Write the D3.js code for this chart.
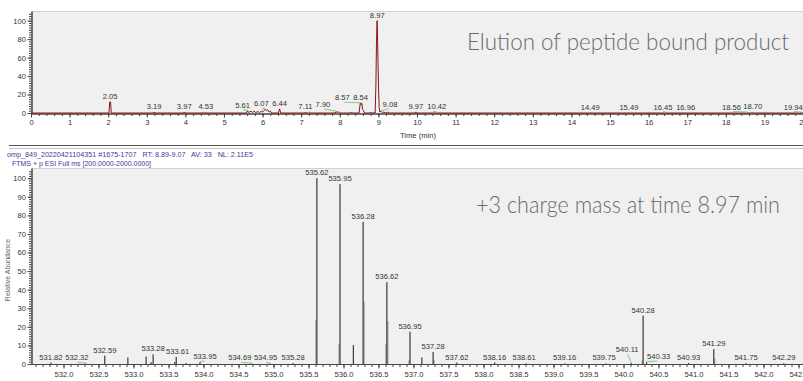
<!DOCTYPE html>
<html>
<head>
<meta charset="utf-8">
<script src="https://cdn.jsdelivr.net/npm/d3@7"></script>
<style>
  body { margin: 0; background: #fff; }
  svg { display: block; font-family: "Liberation Sans", Arial, sans-serif; }
</style>
</head>
<body>
<svg id="chart" width="803" height="381"></svg>
<script>
// ---- chromatogram (top panel) ----
const ticTime = [0, 2.02, 2.04, 2.06, 2.08, 3.17, 3.19, 3.21, 3.95, 3.97, 3.99, 4.51, 4.53, 4.55,
  5.58, 5.61, 5.64, 5.70, 5.74, 5.78, 5.82, 5.88, 5.92, 5.97, 6.00, 6.04, 6.07, 6.10, 6.13, 6.17, 6.20, 6.24,
  6.41, 6.44, 6.47, 7.09, 7.11, 7.13, 7.19, 7.21, 7.23, 7.88, 7.90, 7.93, 7.96, 7.99, 8.28, 8.30, 8.32,
  8.50, 8.53, 8.55, 8.57, 8.59, 8.61, 8.64, 8.78, 8.80, 8.82, 8.88, 8.90, 8.915, 8.935, 8.95, 8.965, 8.975,
  8.99, 9.005, 9.02, 9.04, 9.06, 9.08, 9.10, 9.14, 9.18, 9.24, 9.28, 9.95, 9.97, 9.99, 10.40, 10.42, 10.44,
  14.47, 14.49, 14.51, 15.47, 15.49, 15.51, 16.43, 16.45, 16.47, 16.94, 16.96, 16.98,
  18.54, 18.56, 18.58, 18.68, 18.70, 18.72, 19.92, 19.94, 19.96, 20];
const ticIntensity = [0, 0, 12, 12, 0, 0, 1, 0, 0, 1, 0, 0, 0.8, 0,
  0, 2.5, 0.5, 2, 0.5, 2, 0.5, 1.5, 0.5, 2, 1, 3, 4, 2.5, 3.5, 1, 2, 0,
  0, 4.5, 0, 0, 1, 0, 0, 0.8, 0, 0, 1.5, 0.5, 1.5, 0, 0, 1, 0,
  0, 11, 9, 10.5, 4, 3, 0, 0, 1, 0, 0, 1, 0, 30, 75, 100, 90,
  55, 25, 6, 1, 2, 1.5, 0.5, 1, 0, 0.8, 0, 0, 1.2, 0, 0, 0.8, 0,
  0, 0.4, 0, 0, 0.4, 0, 0, 0.4, 0, 0, 0.4, 0,
  0, 0.5, 0, 0, 0.6, 0, 0, 0.5, 0, 0];
const ticPeakLabels = ["2.05", "3.19", "3.97", "4.53", "5.61", "6.07", "6.44", "7.11", "7.90", "8.57", "8.54",
  "8.97", "9.08", "9.97", "10.42", "14.49", "15.49", "16.45", "16.96", "18.56", "18.70", "19.94"];
const timeTicks = [0, 1, 2, 3, 4, 5, 6, 7, 8, 9, 10, 11, 12, 13, 14, 15, 16, 17, 18, 19, 20];
const ticAbundanceTicks = [0, 20, 40, 60, 80, 100];

// ---- mass spectrum (bottom panel) ----
const msMz = [531.82, 532.32, 532.59, 532.92, 533.18, 533.25, 533.28, 533.59, 533.61, 533.75, 533.95,
  534.69, 534.95, 535.28, 535.62, 535.95, 536.14, 536.28, 536.62, 536.95, 537.12, 537.28, 537.62,
  538.16, 538.61, 539.16, 539.75, 540.11, 540.28, 540.33, 540.93, 541.29, 541.75, 542.29];
const msIntensity = [0.8, 0.3, 4.5, 3.5, 4, 1, 5.2, 1, 3.8, 0.5, 1,
  0.3, 0.3, 0.5, 100, 96.8, 10.2, 76.5, 44, 17.4, 3.5, 6.5, 0.8,
  0.8, 0.3, 0.3, 0.3, 0.5, 26, 1, 0.5, 8, 0.4, 0.4];
const msShoulderMz = [535.605, 535.935, 536.295, 536.605, 536.635, 536.935, 537.295, 540.265, 541.305];
const msShoulderIntensity = [23.5, 11, 33.5, 10.7, 23, 2, 2, 2, 3];
const msPeakLabels = ["531.82", "532.32", "532.59", "533.28", "533.61", "533.95", "534.69", "534.95", "535.28",
  "535.62", "535.95", "536.28", "536.62", "536.95", "537.28", "537.62", "538.16", "538.61", "539.16",
  "539.75", "540.11", "540.28", "540.33", "540.93", "541.29", "541.75", "542.29"];
const mzTicks = [532.0, 532.5, 533.0, 533.5, 534.0, 534.5, 535.0, 535.5, 536.0, 536.5, 537.0, 537.5,
  538.0, 538.5, 539.0, 539.5, 540.0, 540.5, 541.0, 541.5, 542.0, 542.5];
const msAbundanceTicks = [0, 10, 20, 30, 40, 50, 60, 70, 80, 90, 100];

const scanHeader = "omp_849_20220421104351 #1675-1707   RT: 8.89-9.07   AV: 33   NL: 2.11E5";
const scanFilter = "FTMS + p ESI Full ms [200.0000-2000.0000]";
const topTitle = "Elution of peptide bound product";
const bottomTitle = "+3 charge mass at time 8.97 min";

const W = 803;
const svg = d3.select("#chart");
const leaderColor = "#7ccf7c";

// label shifts (px) where the instrument software moved labels apart
const ticNudge = { "5.61": [-5, 0], "6.07": [-4, 0], "7.90": [-13, -1.5], "8.57": [-19.5, 0],
  "9.08": [8.5, -1.5], "10.42": [3.5, 0], "16.45": [-3, 0], "18.56": [-16, 0], "19.94": [-7.5, 0] };
const msNudge = { "532.32": [-9, 0], "533.61": [1.5, 0], "533.95": [5, 0], "534.69": [-12, 0],
  "534.95": [-4.5, 0], "538.61": [-2, 0], "539.75": [-2, 0], "540.11": [-4, -8], "540.33": [12, 0] };

function styleAxis(g, size) {
  g.selectAll("path.domain").attr("stroke", "#444");
  g.selectAll(".tick line").attr("stroke", "#444");
  g.selectAll(".tick text").attr("fill", "#333").style("font-size", size + "px")
    .style("font-family", "'Liberation Sans', Arial, sans-serif");
}

function drawLabels(g, labels, xs, ys, heightAt, nudges) {
  labels.forEach(lab => {
    const v = +lab;
    const px = xs(v), py = ys(heightAt(v));
    const n = nudges[lab] || [0, 0];
    const lx = px + n[0], ly = py - 3 + n[1];
    if (Math.abs(n[0]) > 2.5 || n[1] < -3) {
      g.append("line")
        .attr("x1", lx + (px - lx) * 0.1).attr("y1", ly + 2)
        .attr("x2", px).attr("y2", py - 0.5)
        .attr("stroke", leaderColor).attr("stroke-width", 1);
    }
    g.append("text").attr("x", lx).attr("y", ly)
      .attr("text-anchor", "middle").attr("fill", "#333")
      .style("font-size", "7.6px").text(lab);
  });
}

// ================= TOP PANEL =================
const tx = d3.scaleLinear().domain([0, 20]).range([31, 803]);
const ty = d3.scaleLinear().domain([0, 110.5]).range([113, 11]);

svg.append("rect").attr("x", 32).attr("y", 11).attr("width", W - 32).attr("height", 102).attr("fill", "#f0f0f0");
svg.append("line").attr("x1", 32).attr("x2", W).attr("y1", 11.5).attr("y2", 11.5).attr("stroke", "#d2d2d2");

svg.append("clipPath").attr("id", "clipTop").append("rect")
  .attr("x", 31).attr("y", 0).attr("width", W - 31).attr("height", 114);

svg.append("text").attr("x", 789).attr("y", 50).attr("text-anchor", "end")
  .attr("fill", "#6a6a6a").style("font-family", "Lato, 'Open Sans', sans-serif").style("font-weight", 300)
  .style("font-size", "23px").attr("textLength", 322).attr("lengthAdjust", "spacingAndGlyphs").text(topTitle);

const topMinorX = svg.append("g").attr("transform", "translate(0,113.5)")
  .call(d3.axisBottom(tx).tickValues(d3.range(0, 20.01, 0.2)).tickSize(2.5).tickSizeOuter(0).tickFormat(""));
styleAxis(topMinorX, 7.6);
const topX = svg.append("g").attr("transform", "translate(0,113.5)")
  .call(d3.axisBottom(tx).tickValues(timeTicks).tickSize(4).tickPadding(2).tickSizeOuter(0).tickFormat(d3.format("d")));
styleAxis(topX, 7.6);

const topMinorY = svg.append("g").attr("transform", "translate(31.5,0)")
  .call(d3.axisLeft(ty).tickValues(d3.range(0, 110, 2.5)).tickSize(2.5).tickSizeOuter(0).tickFormat(""));
styleAxis(topMinorY, 7.6);
const topY = svg.append("g").attr("transform", "translate(31.5,0)")
  .call(d3.axisLeft(ty).tickValues(ticAbundanceTicks).tickSize(4).tickPadding(1.5).tickSizeOuter(0));
styleAxis(topY, 7.6);

const ticPoints = ticTime.map((t, i) => [t, ticIntensity[i]]);
svg.append("path").datum(ticPoints)
  .attr("clip-path", "url(#clipTop)")
  .attr("fill", "none").attr("stroke", "#8b1414").attr("stroke-width", 1)
  .attr("d", d3.line().x(d => tx(d[0])).y(d => ty(d[1])));

const ticHeight = t => d3.max(ticPoints.filter(p => Math.abs(p[0] - t) <= 0.031), p => p[1]) || 0;
drawLabels(svg.append("g"), ticPeakLabels, tx, ty, ticHeight, ticNudge);

svg.append("text").attr("x", 400).attr("y", 137.5).attr("fill", "#333")
  .style("font-size", "7.6px").text("Time (min)");

// separators between the two screenshots
svg.append("line").attr("x1", 9).attr("x2", W).attr("y1", 145.5).attr("y2", 145.5).attr("stroke", "#555");
svg.append("line").attr("x1", 9).attr("x2", W).attr("y1", 148.5).attr("y2", 148.5).attr("stroke", "#c4c4c4");

// ================= BOTTOM PANEL =================
const mx = d3.scaleLinear().domain([531.5, 542.6]).range([28.5, 805.5]);
const my = d3.scaleLinear().domain([0, 105.5]).range([364, 168]);

svg.append("text").attr("x", 7).attr("y", 156.5).attr("fill", "#3a3a9c")
  .style("font-size", "7.6px").attr("textLength", 246).attr("lengthAdjust", "spacingAndGlyphs")
  .style("white-space", "pre").attr("xml:space", "preserve").text(scanHeader);
svg.append("text").attr("x", 12).attr("y", 166).attr("fill", "#3a3a9c")
  .style("font-size", "7.6px").attr("textLength", 139).attr("lengthAdjust", "spacingAndGlyphs")
  .text(scanFilter);

svg.append("rect").attr("x", 32).attr("y", 168).attr("width", W - 32).attr("height", 196).attr("fill", "#f0f0f0");
svg.append("line").attr("x1", 32).attr("x2", W).attr("y1", 168.5).attr("y2", 168.5).attr("stroke", "#d2d2d2");

svg.append("text").attr("x", 780).attr("y", 213).attr("text-anchor", "end")
  .attr("fill", "#6a6a6a").style("font-family", "Lato, 'Open Sans', sans-serif").style("font-weight", 300)
  .style("font-size", "23px").attr("textLength", 304).attr("lengthAdjust", "spacingAndGlyphs").text(bottomTitle);

const botMinorX = svg.append("g").attr("transform", "translate(0,364.5)")
  .call(d3.axisBottom(mx).tickValues(d3.range(531.6, 542.65, 0.1)).tickSize(2.5).tickSizeOuter(0).tickFormat(""));
styleAxis(botMinorX, 7.6);
const botX = svg.append("g").attr("transform", "translate(0,364.5)")
  .call(d3.axisBottom(mx).tickValues(mzTicks).tickSize(4).tickPadding(3).tickSizeOuter(0).tickFormat(d3.format(".1f")));
styleAxis(botX, 7.6);
botX.select("path.domain").attr("d", "M32,0H" + W);
botMinorX.select("path.domain").remove();

const botMinorY = svg.append("g").attr("transform", "translate(31.5,0)")
  .call(d3.axisLeft(my).tickValues(d3.range(0, 105, 1.25)).tickSize(2.5).tickSizeOuter(0).tickFormat(""));
styleAxis(botMinorY, 7.6);
const botY = svg.append("g").attr("transform", "translate(31.5,0)")
  .call(d3.axisLeft(my).tickValues(msAbundanceTicks).tickSize(4).tickPadding(1.5).tickSizeOuter(0));
styleAxis(botY, 7.6);

svg.append("text").attr("transform", "translate(10,270) rotate(-90)").attr("text-anchor", "middle")
  .attr("fill", "#666").style("font-size", "7px").text("Relative Abundance");

const sticks = svg.append("g");
sticks.selectAll("line.sh").data(msShoulderMz.map((m, i) => [m, msShoulderIntensity[i]]))
  .join("line").attr("class", "sh")
  .attr("x1", d => mx(d[0])).attr("x2", d => mx(d[0]))
  .attr("y1", my(0)).attr("y2", d => my(d[1]))
  .attr("stroke", "#9a9a9a").attr("stroke-width", 1);
sticks.selectAll("line.pk").data(msMz.map((m, i) => [m, msIntensity[i]]))
  .join("line").attr("class", "pk")
  .attr("x1", d => mx(d[0])).attr("x2", d => mx(d[0]))
  .attr("y1", my(0)).attr("y2", d => my(d[1]))
  .attr("stroke", "#151515").attr("stroke-width", 1);

const msHeight = m => {
  const i = msMz.findIndex(v => Math.abs(v - m) < 0.005);
  return i < 0 ? 0 : msIntensity[i];
};
drawLabels(svg.append("g"), msPeakLabels, mx, my, msHeight, msNudge);
</script>
</body>
</html>
